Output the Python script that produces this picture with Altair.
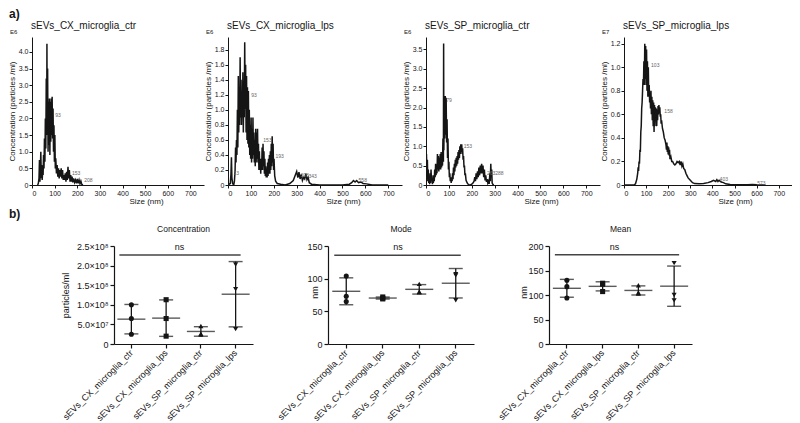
import altair as alt
import pandas as pd

FONT = "Liberation Sans"
INK = "#151515"

# ---------------- a) NTA size distributions ----------------
# size (nm) and concentration (in units of the E-exponent shown on each axis)
cx_ctr_size = [25, 28, 31, 33, 35, 37, 39, 41, 43, 45, 47, 49, 51, 53, 55, 57, 59, 61, 63, 65, 66, 67, 69, 71, 73, 75,
               77, 79, 81, 83, 85, 87, 89, 91, 93, 95, 97, 99, 101, 103, 105, 108, 111, 114, 117, 120, 123, 126, 129,
               132, 135, 138, 141, 144, 147, 150, 153, 156, 159, 162, 165, 168, 171, 174, 177, 180, 184, 188, 192,
               196, 200, 204, 208, 212, 216, 220, 225]
cx_ctr_conc = [0, 0.05, 0.2, 0.75, 0.1, 0.5, 1.0, 0.2, 0.6, 0.15, 0.4, 0.3, 0.9, 0.5, 1.4, 0.7, 2.0, 1.1, 3.2, 1.5,
               4.25, 1.8, 3.5, 1.0, 2.5, 1.2, 2.6, 0.9, 2.5, 1.3, 2.6, 1.5, 2.65, 1.4, 2.3, 1.0, 1.8, 0.7, 1.5, 0.5,
               0.8, 0.35, 0.6, 0.25, 0.5, 0.2, 0.45, 0.25, 0.5, 0.2, 0.45, 0.15, 0.3, 0.15, 0.35, 0.1, 0.4, 0.15,
               0.55, 0.2, 0.45, 0.1, 0.3, 0.1, 0.25, 0.08, 0.2, 0.08, 0.15, 0.05, 0.18, 0.05, 0.15, 0.04, 0.12,
               0.02, 0.0]
cx_ctr_peak_size = [98, 172, 226]
cx_ctr_peak_conc = [2.1, 0.35, 0.15]
cx_ctr_peak_text = ["93", "153", "208"]

cx_lps_size = [0, 10, 13, 15, 17, 20, 25, 28, 31, 33, 35, 37, 39, 41, 43, 45, 47, 49, 51, 53, 55, 57, 59, 61, 63, 65,
               67, 69, 71, 73, 75, 77, 79, 81, 83, 85, 87, 89, 91, 93, 95, 97, 99, 101, 103, 105, 107, 109, 111, 113,
               115, 117, 119, 121, 123, 125, 127, 129, 131, 133, 135, 137, 139, 141, 143, 145, 147, 149, 151, 153,
               155, 157, 159, 161, 163, 165, 167, 169, 171, 173, 175, 177, 179, 181, 183, 185, 187, 189, 191, 193,
               195, 197, 199, 201, 204, 208, 215, 230, 250, 270, 285, 295, 300, 305, 310, 315, 320, 325, 330, 335,
               340, 345, 350, 355, 365, 400, 500, 530, 540, 548, 555, 562, 570, 580, 590, 605, 630, 700]
cx_lps_conc = [0, 0.02, 0.15, 0.37, 0.1, 0.02, 0.0, 0.05, 0.2, 0.5, 0.3, 0.6, 0.4, 1.0, 0.5, 1.45, 0.7, 1.3, 0.8, 1.7,
               0.9, 1.4, 0.8, 1.2, 0.9, 1.5, 0.7, 1.3, 0.9, 1.9, 1.0, 1.6, 0.7, 1.45, 0.6, 1.3, 0.55, 1.25, 0.5, 1.0,
               0.4, 0.8, 0.35, 0.9, 0.3, 0.75, 0.35, 0.9, 0.4, 0.7, 0.3, 0.6, 0.25, 0.75, 0.3, 0.7, 0.35, 0.75, 0.3,
               0.55, 0.2, 0.45, 0.2, 0.35, 0.15, 0.35, 0.2, 0.5, 0.2, 0.55, 0.25, 0.45, 0.15, 0.35, 0.12, 0.25, 0.1,
               0.2, 0.1, 0.3, 0.12, 0.35, 0.15, 0.4, 0.15, 0.45, 0.2, 0.55, 0.25, 0.65, 0.3, 0.55, 0.2, 0.35, 0.12,
               0.05, 0.02, 0.01, 0.0, 0.02, 0.06, 0.14, 0.18, 0.1, 0.17, 0.08, 0.14, 0.06, 0.1, 0.08, 0.15, 0.07, 0.1,
               0.03, 0.01, 0.0, 0.0, 0.01, 0.03, 0.06, 0.04, 0.06, 0.03, 0.04, 0.02, 0.015, 0.0, 0.0]
cx_lps_peak_size = [20, 97, 150, 203, 312, 347, 566]
cx_lps_peak_conc = [0.16, 1.2, 0.6, 0.38, 0.13, 0.12, 0.07]
cx_lps_peak_text = ["13", "93", "153", "193", "308", "343", "558"]

sp_ctr_size = [0, 2, 4, 6, 8, 10, 12, 14, 16, 18, 20, 22, 24, 26, 28, 30, 32, 34, 36, 38, 40, 42, 44, 46, 48, 50, 52,
               54, 56, 58, 60, 62, 64, 66, 68, 70, 72, 74, 76, 77, 78, 80, 82, 84, 86, 88, 90, 92, 94, 96, 98, 100,
               102, 104, 106, 108, 110, 112, 114, 116, 118, 120, 122, 124, 126, 128, 130, 132, 134, 136, 138, 140,
               142, 144, 146, 148, 150, 152, 154, 156, 158, 160, 162, 164, 166, 168, 170, 172, 175, 178, 182, 188,
               194, 200, 205, 210, 213, 216, 219, 222, 225, 228, 231, 234, 237, 240, 243, 246, 249, 252, 255, 258,
               261, 264, 267, 270, 273, 276, 279, 281, 283, 285, 287, 289, 292, 296]
sp_ctr_conc = [0.1, 0.8, 0.3, 0.65, 0.1, 0.4, 0.05, 0.2, 0.02, 0.3, 0.05, 0.4, 0.1, 0.25, 0.02, 0.15, 0.05, 0.25, 0.1,
               0.4, 0.2, 0.55, 0.25, 0.5, 0.3, 0.8, 0.4, 0.75, 0.35, 0.7, 0.4, 0.8, 0.4, 0.85, 0.45, 0.7, 0.5, 1.2,
               0.6, 3.65, 0.9, 2.0, 1.2, 2.3, 1.3, 2.25, 1.1, 1.7, 0.7, 1.2, 0.4, 0.6, 0.2, 0.3, 0.1, 0.2, 0.05, 0.2,
               0.1, 0.3, 0.15, 0.45, 0.25, 0.55, 0.35, 0.65, 0.45, 0.7, 0.5, 0.75, 0.55, 0.85, 0.65, 0.9, 0.7, 1.0,
               0.8, 1.05, 0.85, 1.05, 0.8, 0.95, 0.65, 0.75, 0.45, 0.5, 0.25, 0.3, 0.12, 0.08, 0.03, 0.01, 0.0, 0.02,
               0.05, 0.1, 0.2, 0.1, 0.3, 0.15, 0.35, 0.2, 0.45, 0.25, 0.5, 0.3, 0.55, 0.3, 0.5, 0.2, 0.4, 0.12, 0.25,
               0.08, 0.15, 0.05, 0.1, 0.03, 0.3, 0.1, 0.55, 0.2, 0.4, 0.05, 0.02, 0.0]
sp_ctr_peak_size = [84, 160, 262, 298]
sp_ctr_peak_conc = [2.2, 1.0, 0.3, 0.3]
sp_ctr_peak_text = ["79", "153", "263", "288"]

sp_lps_size = [0, 45, 52, 58, 62, 64, 66, 68, 70, 72, 74, 76, 78, 80, 82, 84, 86, 88, 90, 92, 94, 96, 98, 100, 102,
               104, 106, 108, 110, 112, 114, 116, 118, 120, 122, 124, 126, 128, 130, 132, 134, 136, 138, 140, 142,
               144, 146, 148, 150, 152, 154, 156, 158, 160, 162, 164, 166, 168, 170, 174, 178, 182, 186, 190, 192,
               194, 196, 198, 200, 202, 204, 206, 208, 212, 216, 220, 225, 230, 235, 240, 245, 250, 254, 258, 262,
               266, 270, 275, 280, 285, 290, 300, 310, 320, 340, 360, 380, 395, 405, 415, 420, 425, 430, 440, 450,
               460, 480, 520, 560, 580, 600, 640]
sp_lps_conc = [0, 0.0, 0.01, 0.05, 0.1, 0.15, 0.12, 0.2, 0.18, 0.3, 0.28, 0.45, 0.5, 0.65, 0.7, 0.8, 0.9, 0.85, 1.05,
               0.85, 1.2, 0.9, 1.18, 0.85, 1.15, 0.8, 1.05, 0.75, 1.0, 0.75, 0.85, 0.7, 0.78, 0.65, 0.8, 0.6, 0.75,
               0.55, 0.72, 0.5, 0.7, 0.45, 0.68, 0.5, 0.66, 0.6, 0.65, 0.5, 0.64, 0.55, 0.67, 0.6, 0.68, 0.62, 0.66,
               0.58, 0.6, 0.52, 0.55, 0.48, 0.45, 0.4, 0.38, 0.34, 0.3, 0.36, 0.28, 0.33, 0.26, 0.32, 0.25, 0.3, 0.22,
               0.24, 0.2, 0.2, 0.18, 0.17, 0.18, 0.2, 0.19, 0.2, 0.17, 0.2, 0.16, 0.18, 0.14, 0.13, 0.1, 0.08, 0.06,
               0.04, 0.02, 0.012, 0.01, 0.012, 0.02, 0.03, 0.04, 0.03, 0.045, 0.03, 0.04, 0.025, 0.02, 0.01, 0.004,
               0.002, 0.003, 0.004, 0.002, 0.0]
sp_lps_peak_size = [118, 178, 428, 598]
sp_lps_peak_conc = [1.02, 0.63, 0.05, 0.02]
sp_lps_peak_text = ["103", "158", "403", "573"]

# ---------------- b) summary statistics ----------------
categories = ["sEVs_CX_microglia_ctr", "sEVs_CX_microglia_lps", "sEVs_SP_microglia_ctr", "sEVs_SP_microglia_lps"]

concentration = [[1.0e8, 0.65e8, 0.25e8], [1.13e8, 0.65e8, 0.2e8], [0.46e8, 0.24e8, 0.26e8], [2.03e8, 1.4e8, 0.38e8]]
mode_nm = [[104, 73, 65], [72, 70, 69], [92, 80, 79], [107, 105, 67]]
mean_nm = [[130, 117, 94], [124, 122, 107], [120, 103, 105], [165, 100, 89]]

conc_ticks = [0, 5e7, 1e8, 1.5e8, 2e8, 2.5e8]
mode_ticks = [0, 50, 100, 150]
mean_ticks = [0, 50, 100, 150, 200]

TOP_H = 148
BOT_H = 98


def text_mark(txt, x, y, size, align="left", baseline="alphabetic", weight="normal"):
    return alt.Chart(pd.DataFrame({"t": [txt]})).mark_text(
        fontSize=size, align=align, baseline=baseline, fontWeight=weight, color=INK).encode(
        x=alt.value(x), y=alt.value(y), text="t:N")


def nta_panel(title, sizes, conc, ymax, ystep_vals, exp_txt, pk_s, pk_c, pk_t, width, panel_tag=None):
    df = pd.DataFrame({"size": sizes, "conc": conc})
    xs = alt.Scale(domain=[0, 760], nice=False)
    ys = alt.Scale(domain=[0, ymax], nice=False)
    xaxis = alt.Axis(values=list(range(0, 800, 100)), title="Size (nm)", titleX=round(width * 0.66),
                     labelFontSize=7, titleFontSize=8, titlePadding=1, tickSize=3, labelPadding=1,
                     labelOverlap=False, format="d")
    yaxis = alt.Axis(values=ystep_vals, title="Concentration (particles /ml)",
                     labelExpr="datum.value == 0 ? '0' : format(datum.value, '.1f')",
                     labelFontSize=7, titleFontSize=8, titlePadding=2, tickSize=3, labelPadding=1,
                     labelOverlap=False)
    line = alt.Chart(df).transform_window(idx="row_number()").mark_line(
        color=INK, strokeWidth=1.5, clip=True).encode(
        x=alt.X("size:Q", scale=xs, axis=xaxis),
        y=alt.Y("conc:Q", scale=ys, axis=yaxis),
        order="idx:Q",
    )
    pk = pd.DataFrame({"size": pk_s, "conc": pk_c, "t": pk_t})
    labels = alt.Chart(pk).mark_text(fontSize=5, color="#666", align="left", dx=1).encode(
        x=alt.X("size:Q", scale=xs, axis=xaxis), y=alt.Y("conc:Q", scale=ys, axis=yaxis), text="t:N")
    layers = [line, labels,
              text_mark(exp_txt, -22, -2, 6, baseline="bottom"),
              text_mark(title, -1, -8, 10)]
    if panel_tag:
        layers.append(text_mark(panel_tag, -23, -28, 12, baseline="top", weight="bold"))
    return alt.layer(*layers).properties(width=width, height=TOP_H)


def scatter_panel(title, groups, ydomain, yticks, ytitle, shapes, width, label_expr, ytitle_x,
                  sig, ns_dx, panel_tag=None):
    rows = []
    for c, vals in zip(categories, groups):
        for v in vals:
            rows.append({"cat": c, "v": v})
    df = pd.DataFrame(rows)
    xs = alt.Scale(domain=categories, paddingInner=0, paddingOuter=0)
    ys = alt.Scale(domain=ydomain, nice=False)
    common = dict(values=yticks, title=ytitle, labelExpr=label_expr, labelFontSize=9, titleFontSize=9,
                  tickSize=4, labelPadding=2, domainWidth=1.2, tickWidth=1.2, labelOverlap=False)
    if ytitle_x is not None:
        yaxis = alt.Axis(titleX=ytitle_x, titleY=BOT_H / 2 - 3, titleAngle=270,
                         titleBaseline="middle", titleAlign="center", **common)
    else:
        yaxis = alt.Axis(titlePadding=6, **common)
    xaxis = alt.Axis(title=None, labelAngle=315, labelAlign="right", labelBaseline="middle", labelFontSize=9,
                     tickSize=4, labelPadding=3, domainWidth=1.2, tickWidth=1.2, labelOverlap=False)
    base = alt.Chart(df)
    xe = alt.X("cat:N", scale=xs, axis=xaxis, sort=categories)
    pts = base.mark_point(filled=True, size=26, opacity=1, color=INK).encode(
        x=xe,
        y=alt.Y("v:Q", scale=ys, axis=yaxis),
        shape=alt.Shape("cat:N", scale=alt.Scale(domain=categories, range=shapes), legend=None))
    stats = base.transform_aggregate(m="mean(v)", sd="stdev(v)", groupby=["cat"]).transform_calculate(
        lo="datum.m - datum.sd", hi="datum.m + datum.sd")
    rule = stats.mark_rule(color=INK, strokeWidth=1.3).encode(
        x=xe, y=alt.Y("lo:Q", scale=ys, axis=yaxis), y2="hi:Q")
    mline = stats.mark_tick(color=INK, size=28, thickness=1.4).encode(
        x=xe, y=alt.Y("m:Q", scale=ys, axis=yaxis))
    cap_lo = stats.mark_tick(color=INK, size=14, thickness=1.4).encode(
        x=xe, y=alt.Y("lo:Q", scale=ys, axis=yaxis))
    cap_hi = stats.mark_tick(color=INK, size=14, thickness=1.4).encode(
        x=xe, y=alt.Y("hi:Q", scale=ys, axis=yaxis))
    sdf = pd.DataFrame({"cat": [categories[0]], "b": [categories[-1]], "y": [sig], "t": ["ns"]})
    sline = alt.Chart(sdf).mark_rule(color="#444", strokeWidth=1.5, xOffset=-12, x2Offset=5).encode(
        x=xe, x2="b:N", y=alt.Y("y:Q", scale=ys, axis=yaxis))
    ns = alt.Chart(sdf).mark_text(fontSize=9, baseline="bottom", dy=-3, color=INK).encode(
        x=alt.value(width / 2 + ns_dx), y=alt.Y("y:Q", scale=ys, axis=yaxis), text="t:N")
    layers = [pts, sline, ns, rule, mline, cap_lo, cap_hi,
              text_mark(title, width / 2, -14, 8.5, align="center")]
    if panel_tag:
        layers.append(text_mark(panel_tag, -105, -37, 12, baseline="top", weight="bold"))
    return alt.layer(*layers).properties(width=width, height=BOT_H)


p1 = nta_panel("sEVs_CX_microglia_ctr", cx_ctr_size, cx_ctr_conc, 4.45,
               [0, 0.5, 1.0, 1.5, 2.0, 2.5, 3.0, 3.5, 4.0], "E6",
               cx_ctr_peak_size, cx_ctr_peak_conc, cx_ctr_peak_text, 172, panel_tag="a)")
p2 = nta_panel("sEVs_CX_microglia_lps", cx_lps_size, cx_lps_conc, 1.97,
               [0, 0.2, 0.4, 0.6, 0.8, 1.0, 1.2, 1.4, 1.6, 1.8], "E6",
               cx_lps_peak_size, cx_lps_peak_conc, cx_lps_peak_text, 174)
p3 = nta_panel("sEVs_SP_microglia_ctr", sp_ctr_size, sp_ctr_conc, 3.82,
               [0, 0.5, 1.0, 1.5, 2.0, 2.5, 3.0, 3.5], "E6",
               sp_ctr_peak_size, sp_ctr_peak_conc, sp_ctr_peak_text, 174)
p4 = nta_panel("sEVs_SP_microglia_lps", sp_lps_size, sp_lps_conc, 1.257,
               [0, 0.2, 0.4, 0.6, 0.8, 1.0, 1.2], "E7",
               sp_lps_peak_size, sp_lps_peak_conc, sp_lps_peak_text, 168)

conc_expr = ("datum.value == 0 ? '0' : datum.value >= 1e8 ? format(datum.value / 1e8, '.1f') + '×10⁸' : "
             "format(datum.value / 1e7, '.1f') + '×10⁷'")
num_expr = "format(datum.value, 'd')"

b1 = scatter_panel("Concentration", concentration, [0, 2.5e8], conc_ticks, "particles/ml",
                   ["circle", "square", "triangle-up", "triangle-down"], 139, conc_expr, None,
                   2.27e8, -4, panel_tag="b)")
b2 = scatter_panel("Mode", mode_nm, [0, 150], mode_ticks, "nm",
                   ["circle", "square", "triangle-up", "triangle-down"], 146, num_expr, -14,
                   136, -3)
b3 = scatter_panel("Mean", mean_nm, [0, 200], mean_ticks, "nm",
                   ["square", "triangle-up", "triangle-down", "circle"], 143, num_expr, -26,
                   182, -6)

spacer = alt.Chart(pd.DataFrame({"a": [0]})).mark_point(opacity=0, size=1).encode(
    x=alt.value(0), y=alt.value(BOT_H / 2)).properties(width=7, height=BOT_H)

top = alt.hconcat(p1, p2, p3, p4, spacing=24, bounds="flush")
bottom = alt.hconcat(spacer, b1, b2, b3, spacing=75, bounds="flush")

chart = alt.vconcat(top, bottom, spacing=3).properties(
    padding={"left": 0, "top": 0, "right": 0, "bottom": 0}
).configure_view(stroke=None).configure_axis(
    labelFont=FONT, titleFont=FONT, domainColor=INK, tickColor=INK, labelColor=INK, titleColor=INK,
    grid=False, titleFontWeight="normal"
).configure_text(font=FONT)

chart.save("out.html", embed_options={"renderer": "svg", "actions": False})
